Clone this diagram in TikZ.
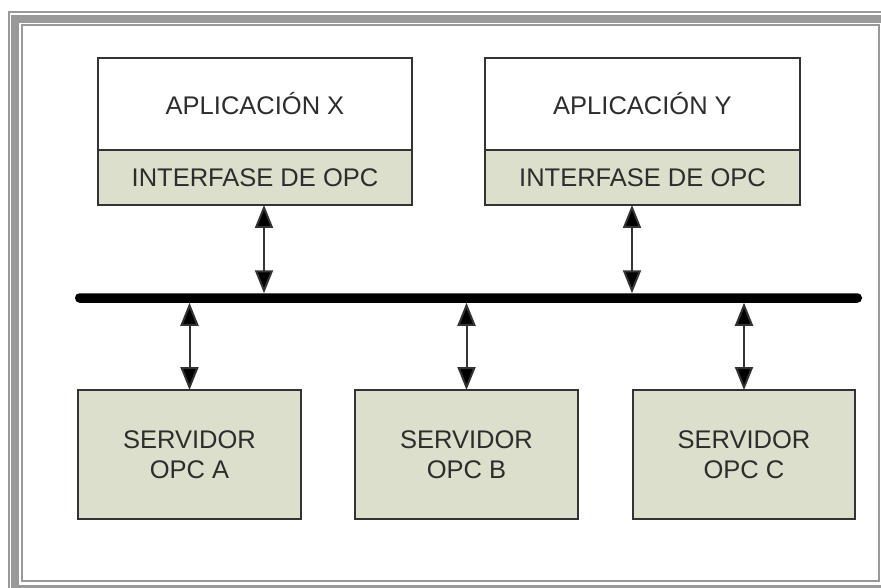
\documentclass[tikz,border=0pt]{standalone}
\usepackage{fontspec}
\setmainfont{Liberation Sans}
\usetikzlibrary{arrows.meta}
\definecolor{framegray}{RGB}{153,153,153}
\definecolor{boxfill}{RGB}{219,223,203}
\definecolor{boxline}{RGB}{51,51,51}
\definecolor{txt}{RGB}{45,45,45}
\tikzset{
  blk/.style={draw=boxline, line width=2.4pt, inner sep=0pt, outer sep=0pt,
    text=txt, font=\fontsize{25.5}{30}\selectfont, align=center},
  whitebox/.style={blk, fill=white},
  greenbox/.style={blk, fill=boxfill},
  biarrow/.style={draw=boxline, line width=2pt,
    {Triangle[length=23pt,width=18pt,fill=black]}-{Triangle[length=23pt,width=18pt,fill=black]}},
}
\begin{document}
\begin{tikzpicture}[x=1pt,y=-1pt]
\useasboundingbox (0,0) rectangle (881,588);
\clip (0,0) rectangle (881,588);
\fill[white] (0,0) rectangle (881,588);
% frame
\draw[framegray, line width=2pt] (8.5,700) -- (8.5,12.5) -- (900,12.5);
\draw[framegray, line width=8pt] (15,19) rectangle (900,589);
\draw[framegray, line width=2pt] (22,25.5) rectangle (879,581);
% application boxes
\node[whitebox, minimum width=314pt, minimum height=92pt] (appX) at (255,104) {APLICACIÓN X};
\node[greenbox, minimum width=314pt, minimum height=55pt] (ifX) at (255,177.5) {INTERFASE DE OPC};
\node[whitebox, minimum width=315pt, minimum height=92pt] (appY) at (642.5,104) {APLICACIÓN Y};
\node[greenbox, minimum width=315pt, minimum height=55pt] (ifY) at (642.5,177.5) {INTERFASE DE OPC};
% bus
\node[fill=black, rounded corners=4.5pt, minimum width=787pt, minimum height=9.5pt,
  inner sep=0pt, outer sep=0pt] (bus) at (468.5,298) {};
% servers
\node[greenbox, minimum width=223pt, minimum height=129pt] (sA) at (189.5,454.5) {SERVIDOR\\OPC A};
\node[greenbox, minimum width=223pt, minimum height=129pt] (sB) at (466.5,454.5) {SERVIDOR\\OPC B};
\node[greenbox, minimum width=222pt, minimum height=129pt] (sC) at (744,454.5) {SERVIDOR\\OPC C};
% arrows
\coordinate (xX) at (264,0);
\coordinate (xY) at (632,0);
\draw[biarrow] (ifX.south -| xX) -- (bus.north -| xX);
\draw[biarrow] (ifY.south -| xY) -- (bus.north -| xY);
\draw[biarrow] (bus.south -| sA.north) -- (sA.north);
\draw[biarrow] (bus.south -| sB.north) -- (sB.north);
\draw[biarrow] (bus.south -| sC.north) -- (sC.north);
\end{tikzpicture}
\end{document}
